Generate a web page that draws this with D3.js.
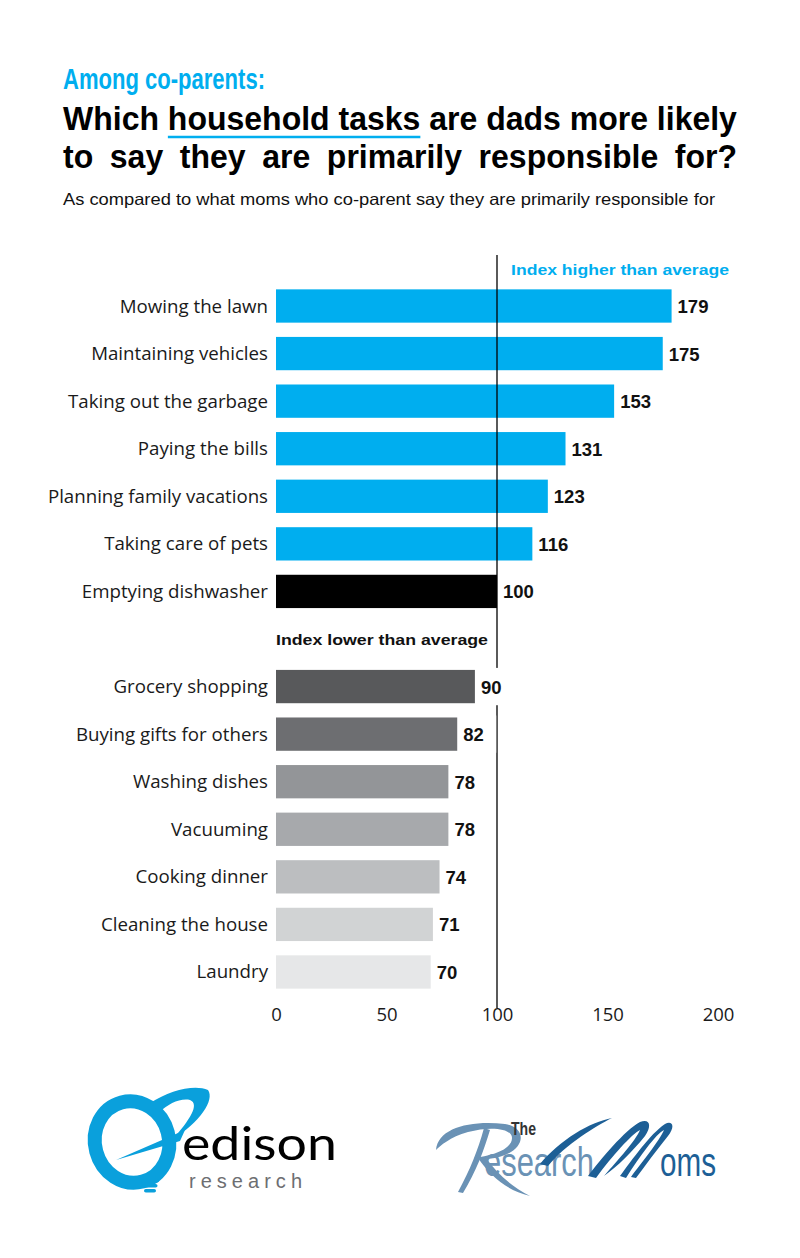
<!DOCTYPE html>
<html><head><meta charset="utf-8">
<script src="https://cdn.jsdelivr.net/npm/d3@7/dist/d3.min.js"></script>
<style>
html,body{margin:0;padding:0;background:#fff;}
svg{display:block;}
</style></head>
<body>
<script>
// ---- data ----
const upperCategories = ["Mowing the lawn","Maintaining vehicles","Taking out the garbage","Paying the bills","Planning family vacations","Taking care of pets","Emptying dishwasher"];
const upperValues = [179,175,153,131,123,116,100];
const lowerCategories = ["Grocery shopping","Buying gifts for others","Washing dishes","Vacuuming","Cooking dinner","Cleaning the house","Laundry"];
const lowerValues = [90,82,78,78,74,71,70];
const xTicks = [0,50,100,150,200];
const upperColors = ["#00aeef","#00aeef","#00aeef","#00aeef","#00aeef","#00aeef","#000000"];
const lowerColors = ["#58595b","#6d6e71","#939598","#a7a9ac","#bcbec0","#d1d3d4","#e6e7e8"];
const GAP = "__gap__";

const W = 800, H = 1258;
const svg = d3.select("body").append("svg").attr("width", W).attr("height", H);

// ---- titles ----
const BLUE = "#00aeef";
svg.append("text").attr("x",63).attr("y",89)
  .attr("font-family","Liberation Sans, Arial, sans-serif").attr("font-weight","bold")
  .attr("font-size",29).attr("fill",BLUE)
  .attr("textLength",202).attr("lengthAdjust","spacingAndGlyphs")
  .text("Among co-parents:");

const tg = svg.append("g");
const l1 = tg.append("text").attr("x",0).attr("y",0)
  .attr("font-family","Liberation Sans, Arial, sans-serif").attr("font-weight","bold")
  .attr("font-size",33).attr("fill","#000")
  .text("Which household tasks are dads more likely");
const l2 = tg.append("text").attr("x",0).attr("y",38)
  .attr("font-family","Liberation Sans, Arial, sans-serif").attr("font-weight","bold")
  .attr("font-size",33).attr("fill","#000")
  .text("to say they are primarily responsible for?");
const target = 674;
const n1 = l1.node().getComputedTextLength();
const s = target / n1;
tg.attr("transform",`translate(63,130) scale(${s},1)`);
const n2 = l2.node().getComputedTextLength();
const spaces2 = 6;
l2.attr("word-spacing", (target/s - n2)/spaces2);
// underline under "household tasks"
const uStart = l1.node().getSubStringLength(0,6);
const uLen = l1.node().getSubStringLength(6,15);
tg.append("line").attr("x1",uStart).attr("x2",uStart+uLen).attr("y1",7).attr("y2",7)
  .attr("stroke",BLUE).attr("stroke-width",2.6);

svg.append("text").attr("x",63).attr("y",205)
  .attr("font-family","Liberation Sans, Arial, sans-serif")
  .attr("font-size",16.5).attr("fill","#111")
  .attr("textLength",652).attr("lengthAdjust","spacingAndGlyphs")
  .text("As compared to what moms who co-parent say they are primarily responsible for");

// ---- scales ----
const rows = upperCategories.map((c,i)=>({c, v:upperValues[i], col:upperColors[i]}))
  .concat(lowerCategories.map((c,i)=>({c, v:lowerValues[i], col:lowerColors[i]})));
const domain = upperCategories.concat([GAP], lowerCategories);
const step = 47.57;
const y = d3.scaleBand().domain(domain).range([306 - step/2, 306 - step/2 + step*domain.length])
  .paddingInner(0.3).paddingOuter(0.15);
const x = d3.scaleLinear().domain([0,200]).range([276,718]);

// bars
svg.append("g").selectAll("rect").data(rows).join("rect")
  .attr("x", x(0)).attr("y", d=>y(d.c)).attr("width", d=>x(d.v)-x(0))
  .attr("height", y.bandwidth()).attr("fill", d=>d.col);

// reference line at 100
svg.append("line").attr("x1",x(100)).attr("x2",x(100)).attr("y1",255).attr("y2",1008)
  .attr("stroke","#000").attr("stroke-width",1.3);

// value labels (with white backing where they cross the reference line)
const vl = svg.append("g").selectAll("g").data(rows).join("g");
vl.filter(d=>d.v<100 && x(d.v)+45 > x(100)).append("rect")
  .attr("x", d=>x(d.v)+3).attr("y", d=>y(d.c)-2).attr("width",36).attr("height", y.bandwidth()+4)
  .attr("fill","#fff");
vl.append("text").attr("x", d=>x(d.v)+6).attr("y", d=>y(d.c)+y.bandwidth()/2+7)
  .attr("font-family","Liberation Sans, Arial, sans-serif").attr("font-weight","bold")
  .attr("font-size",18.5).attr("fill","#111").text(d=>d.v);

// category labels
svg.append("g").selectAll("text").data(rows).join("text")
  .attr("x", 268).attr("y", d=>y(d.c)+y.bandwidth()/2+6.5)
  .attr("text-anchor","end")
  .attr("font-family","Open Sans, sans-serif").attr("font-size",18.7).attr("fill","#1a1a1a")
  .text(d=>d.c);

// x axis tick labels
const ax = svg.append("g").attr("transform","translate(0,1000)")
  .call(d3.axisBottom(x).tickValues(xTicks).tickSize(0).tickPadding(8));
ax.select(".domain").remove();
ax.selectAll("text").attr("font-family","Open Sans, sans-serif").attr("font-size",18.5).attr("fill","#1a1a1a");

// annotations
svg.append("text").attr("x",511).attr("y",275)
  .attr("font-family","Liberation Sans, Arial, sans-serif").attr("font-weight","bold")
  .attr("font-size",15.5).attr("fill",BLUE)
  .attr("textLength",218).attr("lengthAdjust","spacingAndGlyphs")
  .text("Index higher than average");
svg.append("text").attr("x",276).attr("y",y(GAP)+y.bandwidth()/2+6)
  .attr("font-family","Liberation Sans, Arial, sans-serif").attr("font-weight","bold")
  .attr("font-size",15.5).attr("fill","#111")
  .attr("textLength",212).attr("lengthAdjust","spacingAndGlyphs")
  .text("Index lower than average");

// ---- edison research logo ----
const EC = "#0aa0dc";
const ed = svg.append("g");
ed.append("ellipse").attr("cx",132).attr("cy",1142).attr("rx",37).attr("ry",41)
  .attr("transform","rotate(-15,132,1142)")
  .attr("fill","none").attr("stroke",EC).attr("stroke-width",14);
// orbit swoosh
ed.append("path").attr("d","M150,1103 C170,1090 195,1084 208,1090 C215,1100 200,1122 172,1140 C190,1120 200,1104 190,1100 C180,1098 168,1104 160,1112 Z")
  .attr("fill",EC);
// wedge through center
ed.append("path").attr("d","M116,1160 L185,1130 L180,1141 Z").attr("fill",EC);
// screw base
[0,1,2].forEach(i=>{
  ed.append("rect").attr("x",141+i*1.5).attr("y",1179+i*5).attr("width",18-i*3).attr("height",3.6)
    .attr("rx",1.8).attr("fill",EC);
});
ed.append("text").attr("x",182).attr("y",1160)
  .attr("font-family","Lato, sans-serif").attr("font-size",46).attr("fill","#000")
  .attr("textLength",155).attr("lengthAdjust","spacingAndGlyphs").text("edison");
ed.append("text").attr("x",189).attr("y",1188)
  .attr("font-family","Liberation Sans, Arial, sans-serif").attr("font-size",20).attr("fill","#6d6e71")
  .attr("textLength",113).attr("lengthAdjust","spacing").text("research");

// ---- The Research Moms logo ----
const LB = "#6a92b5", DB = "#1d5f96";
const rm = svg.append("g");
// big script R
rm.append("path").attr("d","M436,1150 C438,1128 470,1120 505,1124 C525,1127 527,1146 505,1155 C495,1159 484,1160 474,1158 C490,1156 512,1150 512,1138 C512,1128 490,1126 468,1132 C450,1137 440,1146 436,1150 Z")
  .attr("fill",LB);
rm.append("path").attr("d","M484,1128 C478,1150 470,1170 458,1192 L463,1193 C476,1172 484,1150 490,1130 Z").attr("fill",LB);
rm.append("path").attr("d","M478,1158 C490,1175 505,1190 530,1196 C510,1186 496,1172 486,1158 Z").attr("fill",LB);
rm.append("text").attr("x",511).attr("y",1135)
  .attr("font-family","Liberation Sans, Arial, sans-serif").attr("font-weight","bold")
  .attr("font-size",19).attr("fill","#333")
  .attr("textLength",25).attr("lengthAdjust","spacingAndGlyphs").text("The");
rm.append("text").attr("x",484).attr("y",1176)
  .attr("font-family","Liberation Sans, Arial, sans-serif")
  .attr("font-size",40).attr("fill",LB)
  .attr("textLength",110).attr("lengthAdjust","spacingAndGlyphs").text("esearch");
// script M
rm.append("path").attr("d","M588,1176 C600,1160 625,1130 640,1122 C650,1118 652,1126 645,1136 C632,1152 618,1166 604,1176 C618,1160 636,1140 640,1130 C632,1134 612,1156 596,1178 Z")
  .attr("fill",DB);
rm.append("path").attr("d","M620,1176 C632,1160 650,1134 665,1124 C672,1120 676,1126 668,1136 C655,1152 645,1166 636,1178 L631,1177 C642,1162 660,1140 664,1130 C656,1134 640,1156 626,1178 Z")
  .attr("fill",DB);
rm.append("path").attr("d","M540,1164 C560,1140 590,1122 612,1118 C596,1126 566,1144 548,1166 Z").attr("fill",DB);
rm.append("text").attr("x",660).attr("y",1176)
  .attr("font-family","Liberation Sans, Arial, sans-serif")
  .attr("font-size",40).attr("fill",DB)
  .attr("textLength",56).attr("lengthAdjust","spacingAndGlyphs").text("oms");
</script>
</body></html>
